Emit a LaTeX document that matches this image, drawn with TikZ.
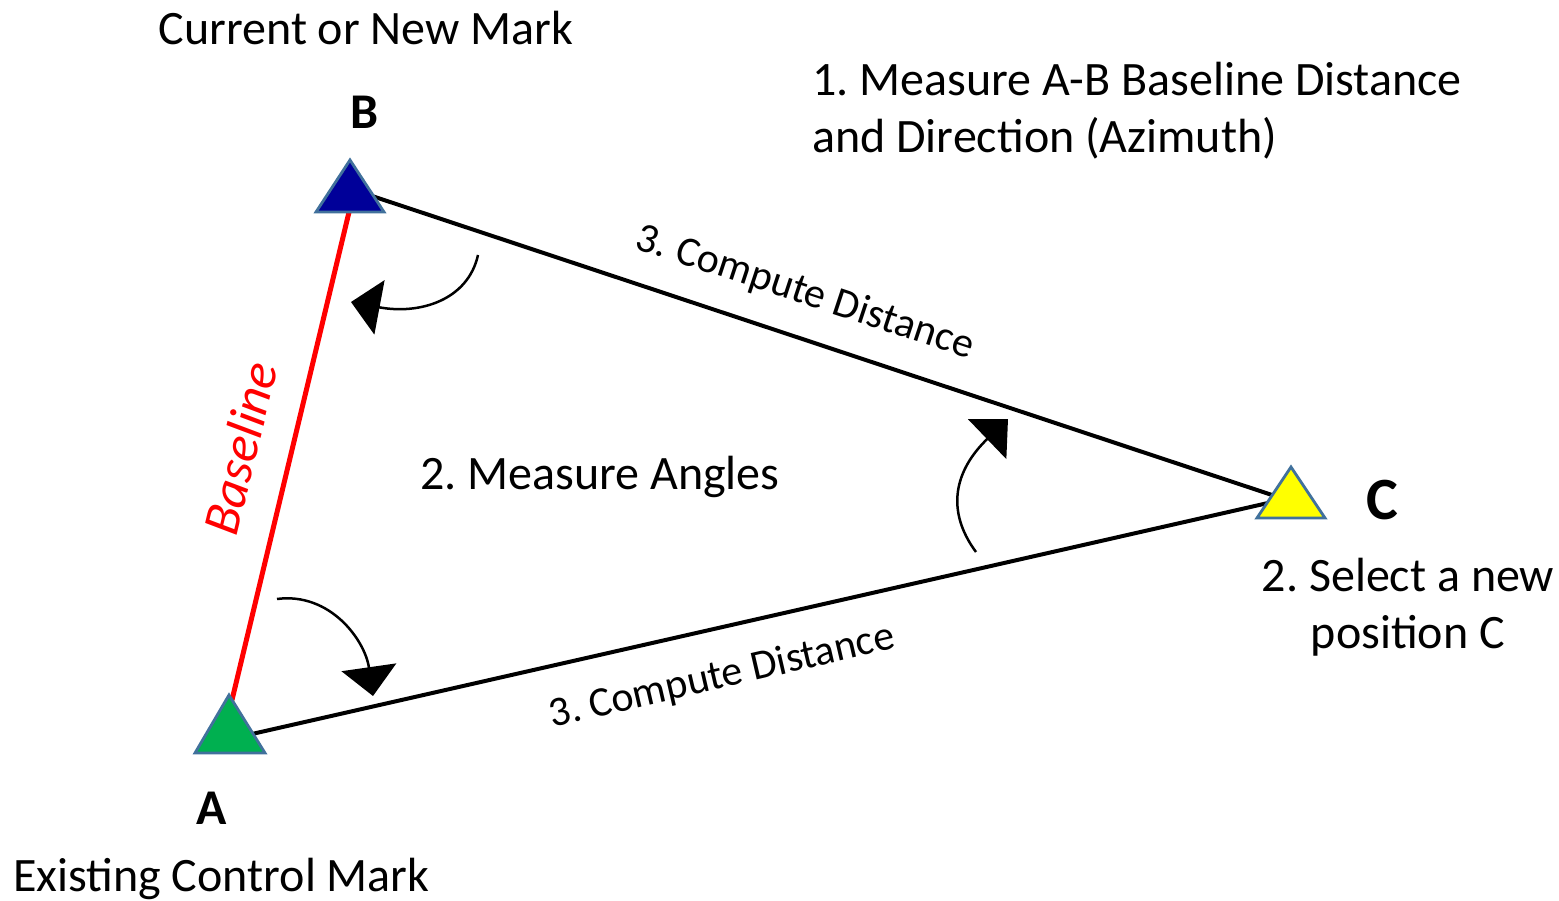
\documentclass[tikz,border=0pt]{standalone}
\usepackage{fontspec}
\setmainfont{Carlito}
\usetikzlibrary{arrows.meta}
\frenchspacing
\definecolor{tribord}{HTML}{41719C}
\definecolor{bfill}{HTML}{000099}
\definecolor{afill}{HTML}{00B050}
\definecolor{cfill}{HTML}{FFFF00}
\definecolor{basered}{HTML}{FF0000}
\begin{document}
\begin{tikzpicture}[x=1pt,y=-1pt,
  tri/.style={draw=tribord,line width=2.8pt,line join=miter},
  side/.style={draw=black,line width=4pt},
  base/.style={draw=basered,line width=5pt},
  turn/.style={draw=black,line width=2.5pt,-{Triangle[length=29pt,width=55pt]}},
  lbl/.style={inner sep=0pt,font=\fontsize{48}{57}\selectfont},
  big/.style={inner sep=0pt,font=\fontsize{50}{58}\selectfont\bfseries},
  along/.style={inner sep=0pt,font=\fontsize{42}{48}\selectfont}]
\useasboundingbox (0,0) rectangle (1559,901);
% vertex coordinates
\coordinate (Atop) at (229,695); \coordinate (Al) at (195,753); \coordinate (Ar) at (265,753);
\coordinate (Btop) at (350,160); \coordinate (Bl) at (316,212); \coordinate (Br) at (384,212);
\coordinate (Ctop) at (1291,467); \coordinate (Cl) at (1257,518); \coordinate (Cr) at (1325,518);
\coordinate (Abase) at (232,700);
\coordinate (Bbase) at (350,208);
\coordinate (Bside) at (372,196);
\coordinate (Aside) at (252,734);
\coordinate (Cin) at (1272,495);
\coordinate (Cin2) at (1268,503);
% sides
\draw[base] (Abase) -- (Bbase);
\draw[side] (Bside) -- (Cin);
\draw[side] (Aside) -- (Cin2);
% triangles
\filldraw[tri,fill=bfill] (Btop) -- (Br) -- (Bl) -- cycle;
\filldraw[tri,fill=afill] (Atop) -- (Ar) -- (Al) -- cycle;
\filldraw[tri,fill=cfill] (Ctop) -- (Cr) -- (Cl) -- cycle;
% angle arrows
\coordinate (b1) at (478,255); \coordinate (b2) at (351,302);
\coordinate (a1) at (277,599); \coordinate (a2) at (373,696);
\coordinate (c1) at (976,552); \coordinate (c2) at (1008,419);
\draw[turn] (b1) .. controls (468,300) and (420,315) .. (b2);
\draw[turn] (a1) .. controls (330,592) and (365,640) .. (a2);
\draw[turn] (c1) .. controls (945,510) and (955,470) .. (c2);
% labels
\node[lbl] (tB) at (366,28) {Current or New Mark};
\node[big] (nB) at (365,112) {B};
\node[lbl,anchor=west,align=left] (t1) at (812,111) {1. Measure A-B Baseline Distance\\and Direction (Azimuth)};
\node[along,rotate=-18.3] (dBC) at (805,293) {3. Compute Distance};
\node[lbl,text=basered,rotate=76.3,font=\fontsize{52}{57}\selectfont\itshape] (tBase) at (240,448) {Baseline};
\node[lbl] (tAng) at (600,477) {2. Measure Angles};
\node[big,font=\fontsize{60}{62}\selectfont\bfseries] (nC) at (1382,500) {C};
\node[lbl,align=center] (tC) at (1408,607) {2. Select a new\\position C};
\node[along,rotate=13] (dAC) at (722,677) {3. Compute Distance};
\node[big] (nA) at (212,808) {A};
\node[lbl,anchor=west] (tA) at (13,879) {Existing Control Mark};
\end{tikzpicture}
\end{document}
